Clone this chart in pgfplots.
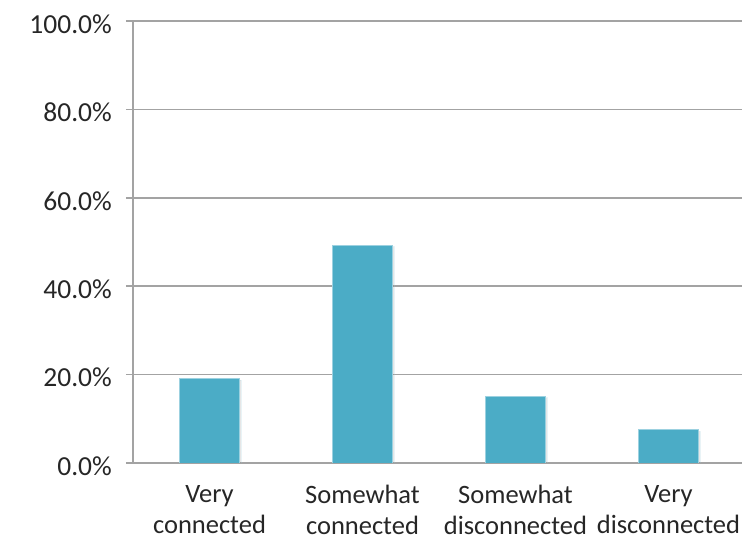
\documentclass[border=0pt]{standalone}
\usepackage{fontspec}
\setmainfont{Carlito}
\usepackage{pgfplots}
\pgfplotsset{compat=1.18}
\usetikzlibrary{shadows}
\definecolor{barblue}{HTML}{4BACC6}
\definecolor{gridgray}{HTML}{A3A3A3}
\begin{document}
\begin{tikzpicture}[x=1pt,y=1pt]
\begin{axis}[
  at={(133pt,80pt)}, anchor=south west,
  width=612pt, height=442pt, scale only axis,
  xmin=-0.5, xmax=3.5, ymin=0, ymax=100,
  ybar, bar width=60pt,
  axis lines*=left,
  axis line style={gridgray, line width=1.6pt},
  ymajorgrids, grid style={gridgray, line width=1.6pt},
  ytick={0,20,...,100},
  tick align=outside,
  ytick style={gridgray, line width=1.6pt},
  major tick length=7pt,
  xtick={0,1,2,3},
  xtick style={draw=none},
  extra x ticks={-0.5,0.5,1.5,2.5,3.5},
  extra x tick labels={},
  extra x tick style={tick style={gridgray, line width=1.6pt}, major tick length=7pt, grid=none},
  xticklabels={{Very\\connected},{Somewhat\\connected},{Somewhat\\disconnected},{Very\\disconnected}},
  xticklabel style={align=center, font=\fontsize{26.5}{31}\selectfont, text=black!85, yshift=-12pt},
  yticklabel={\pgfmathprintnumber[fixed,fixed zerofill,precision=1]{\tick}\%},
  /pgf/number format/assume math mode=true,
  yticklabel style={font=\fontsize{27.5}{32}\selectfont, text=black!85, inner sep=0pt, xshift=-14pt, yshift=-3pt},
]
\addplot[fill=barblue, draw=barblue!55!white, line width=0.8pt,
  drop shadow={shadow xshift=1.5pt, shadow yshift=-1.5pt, opacity=0.2}]
  coordinates {(0,19.1) (1,49.3) (2,15.1) (3,7.5)};
\end{axis}
\pgfresetboundingbox
\useasboundingbox (0,0) rectangle (742,543);
\end{tikzpicture}
\end{document}
